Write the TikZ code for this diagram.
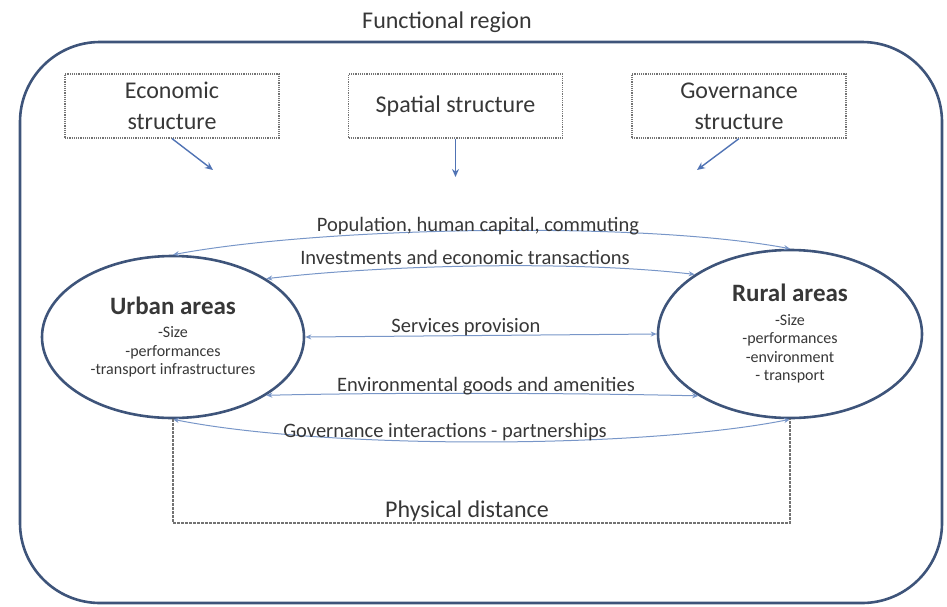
\documentclass[tikz,border=0pt]{standalone}
\usepackage{fontspec}
\setmainfont{Carlito}
\usetikzlibrary{shapes.geometric,arrows.meta}
\definecolor{framecol}{RGB}{62,84,122}
\definecolor{flowcol}{RGB}{120,150,200}
\definecolor{pushcol}{RGB}{80,115,180}
\definecolor{inkcol}{RGB}{55,55,55}
\definecolor{dotcol}{RGB}{115,115,115}

\begin{document}
\begin{tikzpicture}[x=1pt, y=-1pt,
  every node/.style={text=inkcol},
  big/.style={font=\fontsize{24}{31}\selectfont},
  lbl/.style={font=\fontsize{20.5}{24}\selectfont, anchor=base, inner sep=0pt},
  factor/.style={big, draw=dotcol, densely dotted, line width=1.2pt, minimum width=214pt, minimum height=64pt, align=center, inner sep=0pt},
  area/.style={ellipse, draw=framecol, line width=2.6pt, inner sep=0pt, align=center, font=\fontsize{16}{18.5}\selectfont},
  flow/.style={flowcol, line width=1pt, {Stealth[length=6pt,width=5pt]}-{Stealth[length=6pt,width=5pt]}},
  push/.style={pushcol, line width=1.4pt, -{Stealth[length=8pt,width=7pt]}},
  gap/.style={dotcol, line width=1.2pt, dash pattern=on 2.5pt off 1.5pt}]
  \useasboundingbox (0,0) rectangle (947,606);

  \draw [framecol, line width=2.6pt, rounded corners=80pt] (20,42) rectangle (942,603);
  \node [big] (title) at (447,22) {Functional region};

  \node [factor] (econ) at (172,106) {Economic\\structure};
  \node [factor] (spat) at (455.5,106) {Spatial structure};
  \node [factor] (gov)  at (739,106) {Governance\\structure};
  \coordinate (econ end) at (213,170);
  \coordinate (spat end) at (455.5,177);
  \coordinate (gov end)  at (697,170);
  \draw [push] (econ.south) -- (econ end);
  \draw [push] (spat.south) -- (spat end);
  \draw [push] (gov.south)  -- (gov end);

  \node [area, minimum width=262pt, minimum height=162pt] (urban) at (173,337)
    {{\fontsize{25}{28}\selectfont\bfseries Urban areas}\\[5pt]-Size\\-performances\\-transport infrastructures};
  \node [area, minimum width=264pt, minimum height=168pt] (rural) at (790,334)
    {{\fontsize{25}{28}\selectfont\bfseries Rural areas}\\[5pt]-Size\\-performances\\-environment\\- transport};

  \draw [flow] (urban.north) .. controls +(150,-28) and +(-150,-28) .. (rural.north);
  \node [lbl] (pop) at (478,231) {Population, human capital, commuting};
  \draw [flow] (urban.32) .. controls +(120,-14) and +(-120,-14) .. (rural.148);
  \node [lbl] (inv) at (465,264) {Investments and economic transactions};
  \draw [flow] (urban.east) -- (rural.west);
  \node [lbl] (serv) at (466,332) {Services provision};
  \draw [flow] (urban.-32) .. controls +(120,-3) and +(-120,-3) .. (rural.214);
  \node [lbl] (env) at (486,391) {Environmental goods and amenities};
  \draw [flow] (urban.south) .. controls +(150,30) and +(-150,30) .. (rural.south);
  \node [lbl] (govint) at (445,437) {Governance interactions - partnerships};

  \coordinate (dist left)  at (urban.south |- 0,523);
  \coordinate (dist right) at (rural.south |- 0,523);
  \draw [gap] (urban.south) -- (dist left) -- (dist right) -- (rural.south);
  \node [big, anchor=base] (dist) at (467,517) {Physical distance};
\end{tikzpicture}
\end{document}
